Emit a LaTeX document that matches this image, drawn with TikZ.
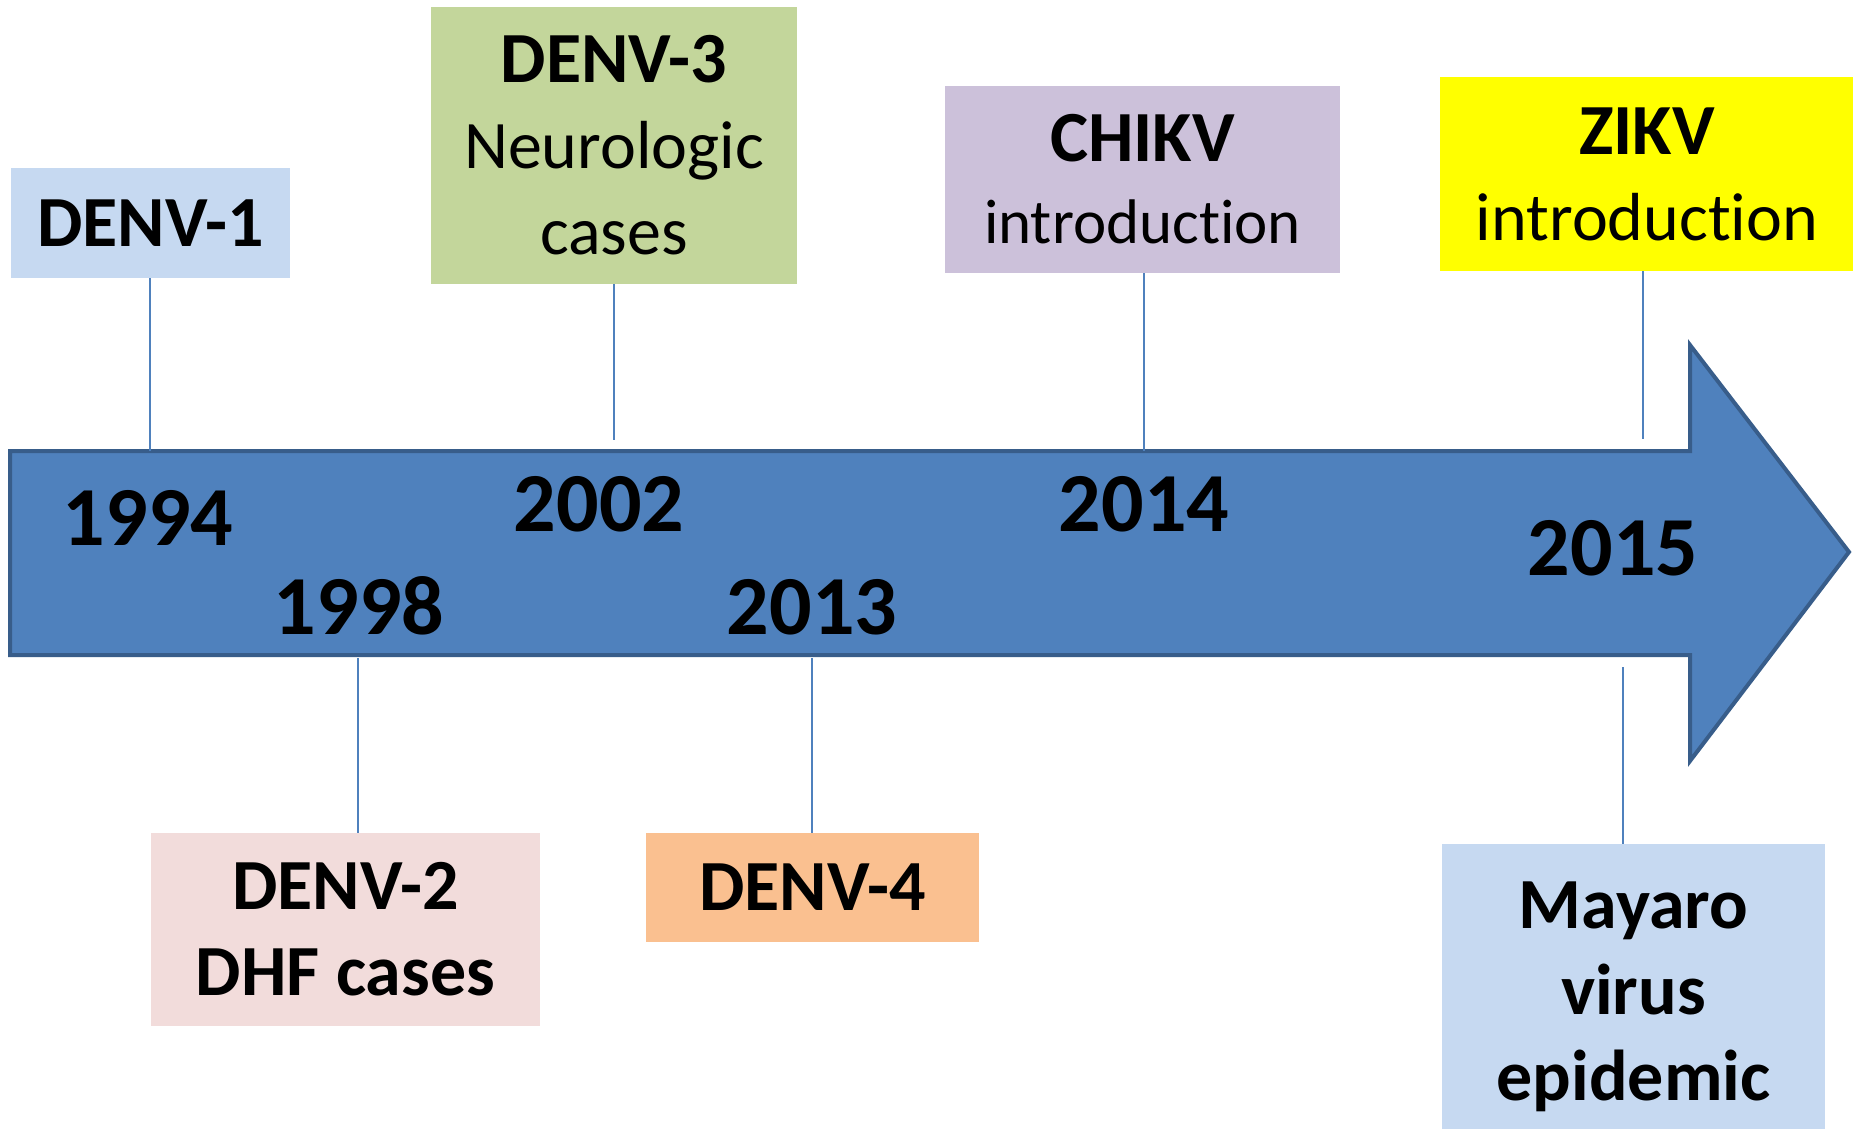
\documentclass[tikz,border=0pt]{standalone}
\usepackage{fontspec}
\setmainfont[Ligatures=NoCommon]{Carlito}
\definecolor{arrowfill}{HTML}{4F81BD}
\definecolor{arrowdraw}{HTML}{385D8A}
\definecolor{cblue}{HTML}{C6D9F1}
\definecolor{cgreen}{HTML}{C3D69B}
\definecolor{cpurple}{HTML}{CCC1DA}
\definecolor{cyellow}{HTML}{FFFF00}
\definecolor{cpink}{HTML}{F2DCDB}
\definecolor{corange}{HTML}{FAC090}
\tikzset{
  evbox/.style={draw=none, inner sep=0pt, align=center, font=\fontsize{34}{43}\selectfont},
  yearlbl/.style={anchor=base, inner sep=0pt, font=\fontsize{42}{50}\selectfont\bfseries},
  link/.style={draw=arrowfill, line width=1pt},
}
\newcommand{\bl}[1]{{\fontsize{36}{43}\selectfont\bfseries #1}}
\begin{document}
\begin{tikzpicture}[x=0.5pt,y=-0.5pt]
\useasboundingbox (0,0) rectangle (1853,1129);
% arrow
\draw[fill=arrowfill, draw=arrowdraw, line width=2pt, line join=miter]
  (10,451) -- (1690,451) -- (1690,345) -- (1849,552) -- (1690,761) -- (1690,655) -- (10,655) -- cycle;
\coordinate (top1) at (150,451);
\coordinate (top3) at (614,440);
\coordinate (topc) at (1144,451);
\coordinate (topz) at (1643,439);
\coordinate (bot2) at (358,658);
\coordinate (bot4) at (812,658);
\coordinate (botm) at (1623,667);
% boxes
\node[evbox, fill=cblue, minimum width=139.5pt, minimum height=55pt] (d1) at (150.5,223) {\bl{DENV-1}};
\node[evbox, fill=cgreen, minimum width=183pt, minimum height=138.5pt] (d3) at (614,145.5) {\bl{DENV-3}\\Neurologic\\cases};
\node[evbox, fill=cpurple, minimum width=197.5pt, minimum height=93.5pt, font=\fontsize{31.5}{41}\selectfont] (ch) at (1142.5,179.5) {\bl{CHIKV}\\introduction};
\node[evbox, fill=cyellow, minimum width=207pt, minimum height=97pt] (zk) at (1647,174) {\bl{ZIKV}\\introduction};
\node[evbox, fill=cpink, minimum width=194.5pt, minimum height=96.5pt] (d2) at (345.5,929.5) {\bl{DENV-2}\\\bl{DHF cases}};
\node[evbox, fill=corange, minimum width=166.5pt, minimum height=54.5pt] (d4) at (812.5,887.5) {\bl{DENV-4}};
\node[evbox, fill=cblue, minimum width=191.5pt, minimum height=153pt] (my) at (1633.5,997) {\bl{Mayaro}\\\bl{virus}\\\bl{epidemic}};
% connectors
\draw[link] (d1.south -| top1) -- (top1);
\draw[link] (d3.south -| top3) -- (top3);
\draw[link] (ch.south -| topc) -- (topc);
\draw[link] (zk.south -| topz) -- (topz);
\draw[link] (bot2) -- (d2.north -| bot2);
\draw[link] (bot4) -- (d4.north -| bot4);
\draw[link] (botm) -- (my.north -| botm);
% years
\node[yearlbl] (y1994) at (148,545) {1994};
\node[yearlbl] (y1998) at (359,634) {1998};
\node[yearlbl] (y2002) at (599,531) {2002};
\node[yearlbl] (y2013) at (812,634) {2013};
\node[yearlbl] (y2014) at (1144,531) {2014};
\node[yearlbl] (y2015) at (1613,575) {2015};
\end{tikzpicture}
\end{document}
